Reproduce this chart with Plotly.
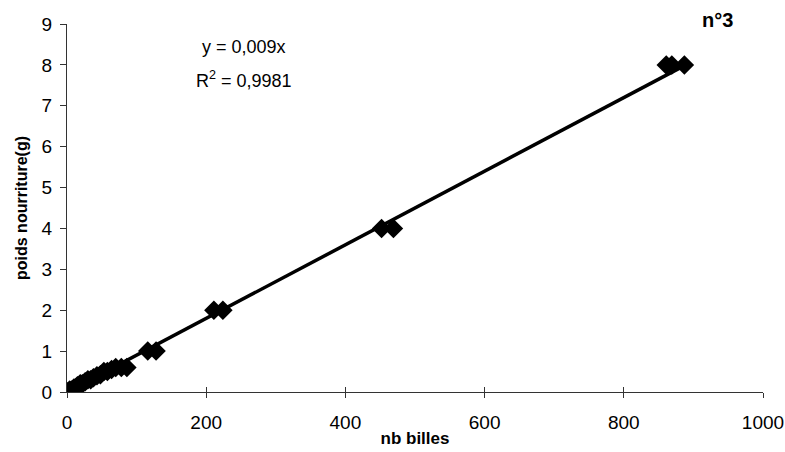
import numpy as np
import plotly.graph_objects as go

# measured pairs: number of beads vs food weight (g)
nb_billes = [2, 4, 7, 10, 12, 15, 19, 22, 26, 30, 34, 38, 43, 48, 53, 58, 64, 70, 78, 86,
             116, 128, 211, 224, 452, 469, 861, 869, 887]
poids = [0.02, 0.05, 0.05, 0.1, 0.1, 0.15, 0.2, 0.2, 0.25, 0.3, 0.3, 0.35, 0.4, 0.42,
         0.5, 0.5, 0.55, 0.6, 0.6, 0.6, 1, 1, 2, 2, 4, 4, 8, 8, 8]

# linear trend through the origin
pente = 0.009
r2 = 0.9981
x_fit = np.array([0, max(nb_billes)])
y_fit = pente * x_fit

x_ticks = [0, 200, 400, 600, 800, 1000]
y_ticks = list(range(0, 10))

font_main = "Liberation Sans, Arial, sans-serif"
font_narrow = "Liberation Sans Narrow, Liberation Sans, Arial, sans-serif"

fig = go.Figure()
fig.add_trace(go.Scatter(x=x_fit, y=y_fit, mode="lines",
                         line=dict(color="black", width=3.5), showlegend=False,
                         hoverinfo="skip"))
fig.add_trace(go.Scatter(x=nb_billes, y=poids, mode="markers",
                         marker=dict(symbol="diamond", size=15, color="black"),
                         showlegend=False))
# invisible companion axis, used to make the x ticks cross the axis line
fig.add_trace(go.Scatter(x=[0], y=[0], xaxis="x2", mode="markers",
                         marker=dict(opacity=0), showlegend=False, hoverinfo="skip"))

fig.update_layout(
    width=785, height=452,
    margin=dict(l=67, r=22, t=24, b=60),
    paper_bgcolor="white", plot_bgcolor="white",
    font=dict(family=font_main, color="black"),
    xaxis=dict(range=[0, 1000], tickvals=x_ticks, ticks="outside", ticklen=5,
               tickcolor="#333", showline=True, linecolor="#333", linewidth=1,
               showgrid=False, zeroline=False, ticklabelstandoff=8,
               automargin=False, ticklabeloverflow="allow",
               tickfont=dict(family=font_narrow, size=19, color="black"),
               title=dict(text="<b>nb billes</b>", standoff=0,
                          font=dict(family=font_main, size=17, color="black"))),
    xaxis2=dict(range=[0, 1000], overlaying="x", anchor="y", side="bottom",
                tickvals=x_ticks, ticks="inside", ticklen=5, tickcolor="#333",
                showticklabels=False, showline=False, showgrid=False,
                zeroline=False),
    yaxis=dict(range=[0, 9], tickvals=y_ticks, ticks="outside", ticklen=6,
               tickcolor="#333", showline=True, linecolor="#333", linewidth=1,
               showgrid=False, zeroline=False, ticklabelstandoff=4,
               automargin=False,
               tickfont=dict(family=font_main, size=19, color="black"),
               title=dict(text="<b>poids nourriture(g)</b>", standoff=10,
                          font=dict(family=font_main, size=16, color="black"))),
    annotations=[
        dict(text=f"y = {str(pente).replace('.', ',')}x", x=0.255, y=0.9375,
             xref="paper", yref="paper", xanchor="center", yanchor="middle",
             showarrow=False, font=dict(family=font_main, size=18, color="black")),
        dict(text=f"R<sup>2</sup> = {str(r2).replace('.', ',')}", x=0.255, y=0.85,
             xref="paper", yref="paper", xanchor="center", yanchor="middle",
             showarrow=False, font=dict(family=font_main, size=18, color="black")),
        dict(text="<b>n°3</b>", x=0.935, y=1.011, xref="paper", yref="paper",
             xanchor="center", yanchor="middle", showarrow=False,
             font=dict(family=font_main, size=20, color="black")),
    ],
)

fig.write_html("out.html")
